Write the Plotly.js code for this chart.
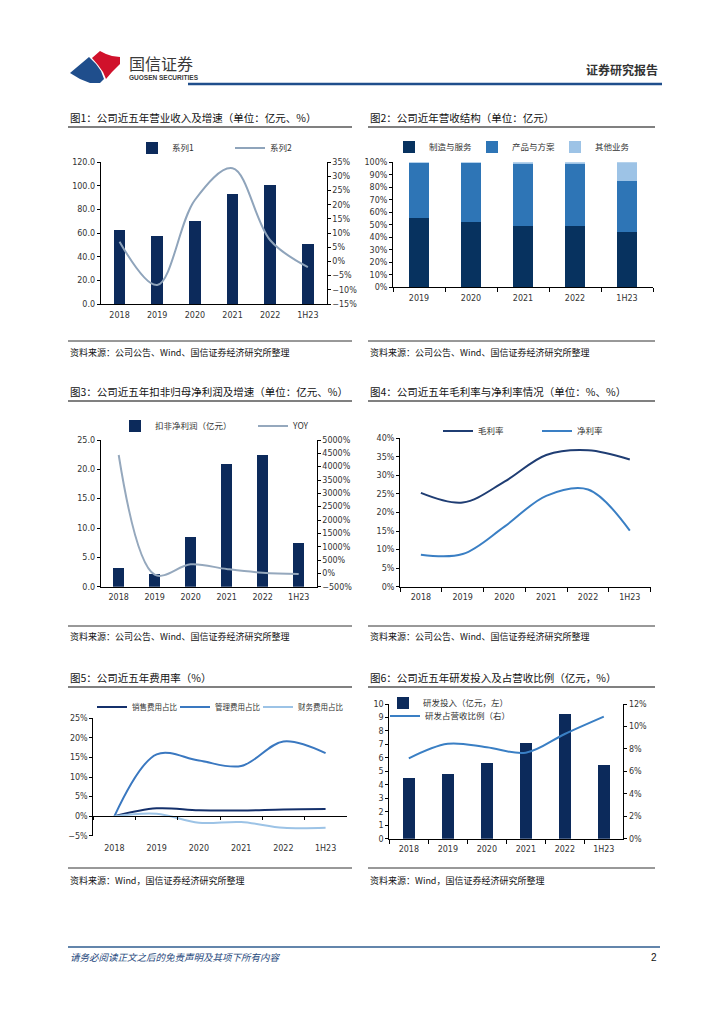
<!DOCTYPE html>
<html><head><meta charset="utf-8">
<script src="https://cdn.plot.ly/plotly-3.0.1.min.js"></script>
<style>html,body{margin:0;padding:0;background:#fff}#c{width:724px;height:1024px}</style>
</head><body><div id="c"></div>
<script>
// ---- data ----
const years6 = ['2018','2019','2020','2021','2022','1H23'];
const years5 = ['2019','2020','2021','2022','1H23'];
// Fig1
const revenue = [62.7, 57.6, 70.3, 92.9, 100.8, 50.5];
const revenueGrowth = [7.0, -8.3, 21.7, 32.9, 7.5, -2.0];
// Fig2 (share %)
const mixMfg = [55.2, 52.3, 49.3, 49.3, 44.3];
const mixProduct = [44.5, 47.3, 49.4, 49.1, 40.7];
const mixOther = [0.3, 0.4, 1.3, 1.6, 15.0];
// Fig3
const deductedProfit = [3.2, 2.1, 8.5, 20.9, 22.4, 7.4];
const deductedProfitYoY = [4437, -50, 337, 162, 25, -25];
// Fig4
const grossMargin = [25.3, 22.7, 28.3, 35.5, 36.8, 34.3];
const netMargin = [8.6, 8.8, 16.2, 24.5, 26.2, 15.1];
// Fig5
const sellingRatio = [0, 2.0, 1.5, 1.45, 1.7, 1.8];
const adminRatio = [0, 15.8, 14.2, 12.8, 19.1, 16.1];
const financeRatio = [0, 0.6, -1.7, -1.5, -3.0, -3.0];
// Fig6
const rdSpend = [4.48, 4.8, 5.62, 7.1, 9.23, 5.47];
const rdRatio = [7.16, 8.46, 8.14, 7.66, 9.33, 10.87];

// ---- helpers ----
const W = 724, H = 1024;
const px = x => x / W;
const py = y => 1 - y / H;
const NAVY = '#0c2a5b';
const CJK = 'Noto Sans CJK SC';
const tickFont = {family: 'DejaVu Sans', size: 8, color: '#333'};
const legFont = {family: CJK, size: 8.5, color: '#333'};

function poly(pts){return 'M' + pts.map(p => px(p[0]).toFixed(5)+','+py(p[1]).toFixed(5)).join(' L') + ' Z';}

const baseX = (dom, anchor, extra) => Object.assign({
  domain: dom, anchor: anchor, type: 'category', showline: true, linecolor: '#000', linewidth: 1,
  ticks: '', showgrid: false, zeroline: false, tickfont: tickFont, fixedrange: true,
  range: [-0.5, 5.5], ticklabelstandoff: 3
}, extra || {});
const baseY = (dom, anchor, extra) => Object.assign({
  domain: dom, anchor: anchor, showline: true, linecolor: '#000', linewidth: 1,
  ticks: 'outside', ticklen: 3, tickcolor: '#000', showgrid: false, zeroline: false,
  tickfont: tickFont, fixedrange: true
}, extra || {});

const traces = [
  // Fig1
  {type:'bar', x: years6, y: revenue, xaxis:'x', yaxis:'y', name:'系列1', width:0.31,
   marker:{color:NAVY}, legend:'legend'},
  {type:'scatter', mode:'lines', x: years6, y: revenueGrowth, xaxis:'x', yaxis:'y2', name:'系列2',
   line:{color:'#8fa4bb', width:2, shape:'spline', smoothing:1}, legend:'legend'},
  // Fig2
  {type:'bar', x: years5, y: mixMfg, xaxis:'x2', yaxis:'y3', name:'制造与服务', width:0.39,
   marker:{color:'#07325f'}, legend:'legend2'},
  {type:'bar', x: years5, y: mixProduct, xaxis:'x2', yaxis:'y3', name:'产品与方案', width:0.39,
   marker:{color:'#2e75b6'}, legend:'legend2'},
  {type:'bar', x: years5, y: mixOther, xaxis:'x2', yaxis:'y3', name:'其他业务', width:0.39,
   marker:{color:'#9dc3e6'}, legend:'legend2'},
  // Fig3
  {type:'bar', x: years6, y: deductedProfit, xaxis:'x3', yaxis:'y4', name:'扣非净利润（亿元）', width:0.31,
   marker:{color:NAVY}, legend:'legend3'},
  {type:'scatter', mode:'lines', x: years6, y: deductedProfitYoY, xaxis:'x3', yaxis:'y5', name:'YOY',
   line:{color:'#95a8bd', width:2, shape:'spline', smoothing:1}, legend:'legend3'},
  // Fig4
  {type:'scatter', mode:'lines', x: years6, y: grossMargin, xaxis:'x4', yaxis:'y6', name:'毛利率',
   line:{color:'#1f3d73', width:2, shape:'spline', smoothing:1}, legend:'legend4'},
  {type:'scatter', mode:'lines', x: years6, y: netMargin, xaxis:'x4', yaxis:'y6', name:'净利率',
   line:{color:'#3a7fc4', width:2, shape:'spline', smoothing:1}, legend:'legend4'},
  // Fig5
  {type:'scatter', mode:'lines', x: years6, y: sellingRatio, xaxis:'x5', yaxis:'y7', name:'销售费用占比',
   line:{color:'#14306b', width:2, shape:'spline', smoothing:1}, legend:'legend5'},
  {type:'scatter', mode:'lines', x: years6, y: adminRatio, xaxis:'x5', yaxis:'y7', name:'管理费用占比',
   line:{color:'#3a78c0', width:2, shape:'spline', smoothing:1}, legend:'legend5'},
  {type:'scatter', mode:'lines', x: years6, y: financeRatio, xaxis:'x5', yaxis:'y7', name:'财务费用占比',
   line:{color:'#9cc3e6', width:2, shape:'spline', smoothing:1}, legend:'legend5'},
  // spacer entry so the last legend-5 label is not clipped
  {type:'scatter', mode:'lines', x: years6, y: years6.map(()=>null), xaxis:'x5', yaxis:'y7', name:' ',
   line:{color:'rgba(0,0,0,0)', width:0}, legend:'legend5', hoverinfo:'skip'},
  {type:'scatter', mode:'lines', x: years6, y: years6.map(()=>null), xaxis:'x7', yaxis:'y7',
   showlegend:false, hoverinfo:'skip'},
  // Fig6
  {type:'bar', x: years6, y: rdSpend, xaxis:'x6', yaxis:'y8', name:'研发投入（亿元，左）', width:0.31,
   marker:{color:NAVY}, legend:'legend6'},
  {type:'scatter', mode:'lines', x: years6, y: rdRatio, xaxis:'x6', yaxis:'y9', name:'研发占营收比例（右）',
   line:{color:'#3a7fc4', width:2, shape:'spline', smoothing:1}, legend:'legend7'}
];

const ann = [];
function txt(x, y, text, size, opts){
  ann.push(Object.assign({xref:'paper', yref:'paper', x:px(x), y:py(y), text:text, showarrow:false,
    xanchor:'left', yanchor:'middle', font:{family:CJK, size:size, color:'#111'}}, opts||{}));
}
// header
txt(127, 63, '国信证券', 16, {font:{family:CJK, size:16, color:'#3a3a3a'}});
txt(127, 77, '<b>GUOSEN SECURITIES</b>', 6.5, {font:{family:'Liberation Sans', size:6.5, color:'#3a3a3a'}});
txt(660, 69, '<b>证券研究报告</b>', 12, {xanchor:'right', font:{family:CJK, size:12, color:'#333'}});
// titles
txt(68, 117, '图1：公司近五年营业收入及增速（单位：亿元、%）', 10.5);
txt(368, 117, '图2：公司近年营收结构（单位：亿元）', 10.5);
txt(68, 391, '图3：公司近五年扣非归母净利润及增速（单位：亿元、%）', 10.5);
txt(368, 391, '图4：公司近五年毛利率与净利率情况（单位：%、%）', 10.5);
txt(68, 677, '图5：公司近五年费用率（%）', 10.5);
txt(368, 677, '图6：公司近五年研发投入及占营收比例（亿元，%）', 10.5);
// sources
const src1 = '资料来源：公司公告、Wind、国信证券经济研究所整理';
const src2 = '资料来源：Wind，国信证券经济研究所整理';
txt(68, 352, src1, 9); txt(368, 352, src1, 9);
txt(68, 636, src1, 9); txt(368, 636, src1, 9);
txt(68, 880, src2, 9); txt(368, 880, src2, 9);
// footer
txt(68, 957, '<i>请务必阅读正文之后的免责声明及其项下所有内容</i>', 9.5, {font:{family:CJK, size:9.5, color:'#1f497d'}});
txt(659, 957, '2', 10, {xanchor:'right', font:{family:'Liberation Sans', size:10, color:'#111'}});

const shapes = [];
function hline(x0, x1, y, color, width){
  shapes.push({type:'line', xref:'paper', yref:'paper', x0:px(x0), x1:px(x1), y0:py(y), y1:py(y),
    line:{color:color, width:width}});
}
hline(188, 662, 84, '#1f4e8c', 2.5);
[127, 401, 687].forEach(y => { hline(68, 352, y, '#808080', 2); hline(368, 655, y, '#808080', 2); });
[341, 626, 868].forEach(y => { hline(68, 352, y, '#333', 1); hline(368, 655, y, '#333', 1); });
hline(68, 660, 947, '#2f5c8f', 1.5);
// logo
shapes.push({type:'path', xref:'paper', yref:'paper', fillcolor:'#d0112b', line:{width:0},
  path: poly([[92,58],[100,51],[106,54],[112,56],[120,57],[120,64],[112,72],[106,79],[103,72],[98,65]])});
shapes.push({type:'path', xref:'paper', yref:'paper', fillcolor:'#1f4e8c', line:{width:0},
  path: poly([[70,73],[89,57],[96,64],[101,71],[104,79],[100,83],[90,83],[80,79]])});

const legBase = (x, y, extra) => Object.assign({x:px(x), y:py(y), xanchor:'left', yanchor:'middle',
  orientation:'h', font:legFont, bgcolor:'rgba(0,0,0,0)', traceorder:'normal',
  itemclick:false, itemdoubleclick:false}, extra||{});

const layout = {
  width: W, height: H, margin:{l:0, r:0, t:0, b:0}, paper_bgcolor:'#fff', plot_bgcolor:'#fff',
  barmode:'stack', hovermode:false, showlegend:true,
  font:{family:CJK, color:'#333'},
  legend: legBase(132, 148, {entrywidth:53}),
  legend2: legBase(389, 147, {entrywidth:38}),
  legend3: legBase(115, 426, {entrywidth:93}),
  legend4: legBase(438, 431, {entrywidth:54}),
  legend5: legBase(92, 707, {entrywidth:38, font:{family:CJK, size:7.5, color:'#333'}}),
  legend6: legBase(383, 703),
  legend7: legBase(385, 716),
  // Fig1
  xaxis: baseX([px(100.7), px(326.7)], 'y'),
  yaxis: baseY([py(304), py(162.3)], 'x', {range:[0,120], dtick:20, tickformat:'.1f'}),
  yaxis2: baseY([py(304), py(162.3)], 'x', {overlaying:'y', side:'right', range:[-15,35], dtick:5, ticksuffix:'%'}),
  // Fig2
  xaxis2: baseX([px(393), px(653)], 'y3', {range:[-0.5,4.5], ticks:'outside', tickson:'boundaries', ticklen:4, tickcolor:'#000'}),
  yaxis3: baseY([py(287.3), py(162.3)], 'x2', {range:[0,100], dtick:10, ticksuffix:'%'}),
  // Fig3
  xaxis3: baseX([px(100.7), px(316.7)], 'y4'),
  yaxis4: baseY([py(586.7), py(440)], 'x3', {range:[0,25], dtick:5, tickformat:'.1f'}),
  yaxis5: baseY([py(586.7), py(440)], 'x3', {overlaying:'y4', side:'right', range:[-500,5000], dtick:500, ticksuffix:'%'}),
  // Fig4
  xaxis4: baseX([px(400), px(650.7)], 'y6', {ticks:'outside', tickson:'boundaries', ticklen:4, tickcolor:'#000'}),
  yaxis6: baseY([py(586.7), py(438.3)], 'x4', {range:[0,40], dtick:5, ticksuffix:'%'}),
  // Fig5
  xaxis5: baseX([px(93.3), px(346.7)], 'y7', {showline:false, ticklabelstandoff:6}),
  xaxis7: baseX([px(93.3), px(346.7)], 'free', {overlaying:'x5', position:py(815.7), showticklabels:false,
    ticks:'outside', tickson:'boundaries', ticklen:3, tickcolor:'#000', categoryarray:years6, categoryorder:'array'}),
  yaxis7: baseY([py(835.7), py(718.3)], 'x5', {range:[-5,25], dtick:5, ticksuffix:'%'}),
  // Fig6
  xaxis6: baseX([px(389.3), px(623.3)], 'y8', {ticks:'outside', tickson:'boundaries', ticklen:4, tickcolor:'#000'}),
  yaxis8: baseY([py(838.7), py(704)], 'x6', {range:[0,10], dtick:1}),
  yaxis9: baseY([py(838.7), py(704)], 'x6', {overlaying:'y8', side:'right', range:[0,12], dtick:2, ticksuffix:'%'}),
  annotations: ann,
  shapes: shapes
};

Plotly.newPlot('c', traces, layout, {staticPlot:true, displayModeBar:false});
</script>
</body></html>
